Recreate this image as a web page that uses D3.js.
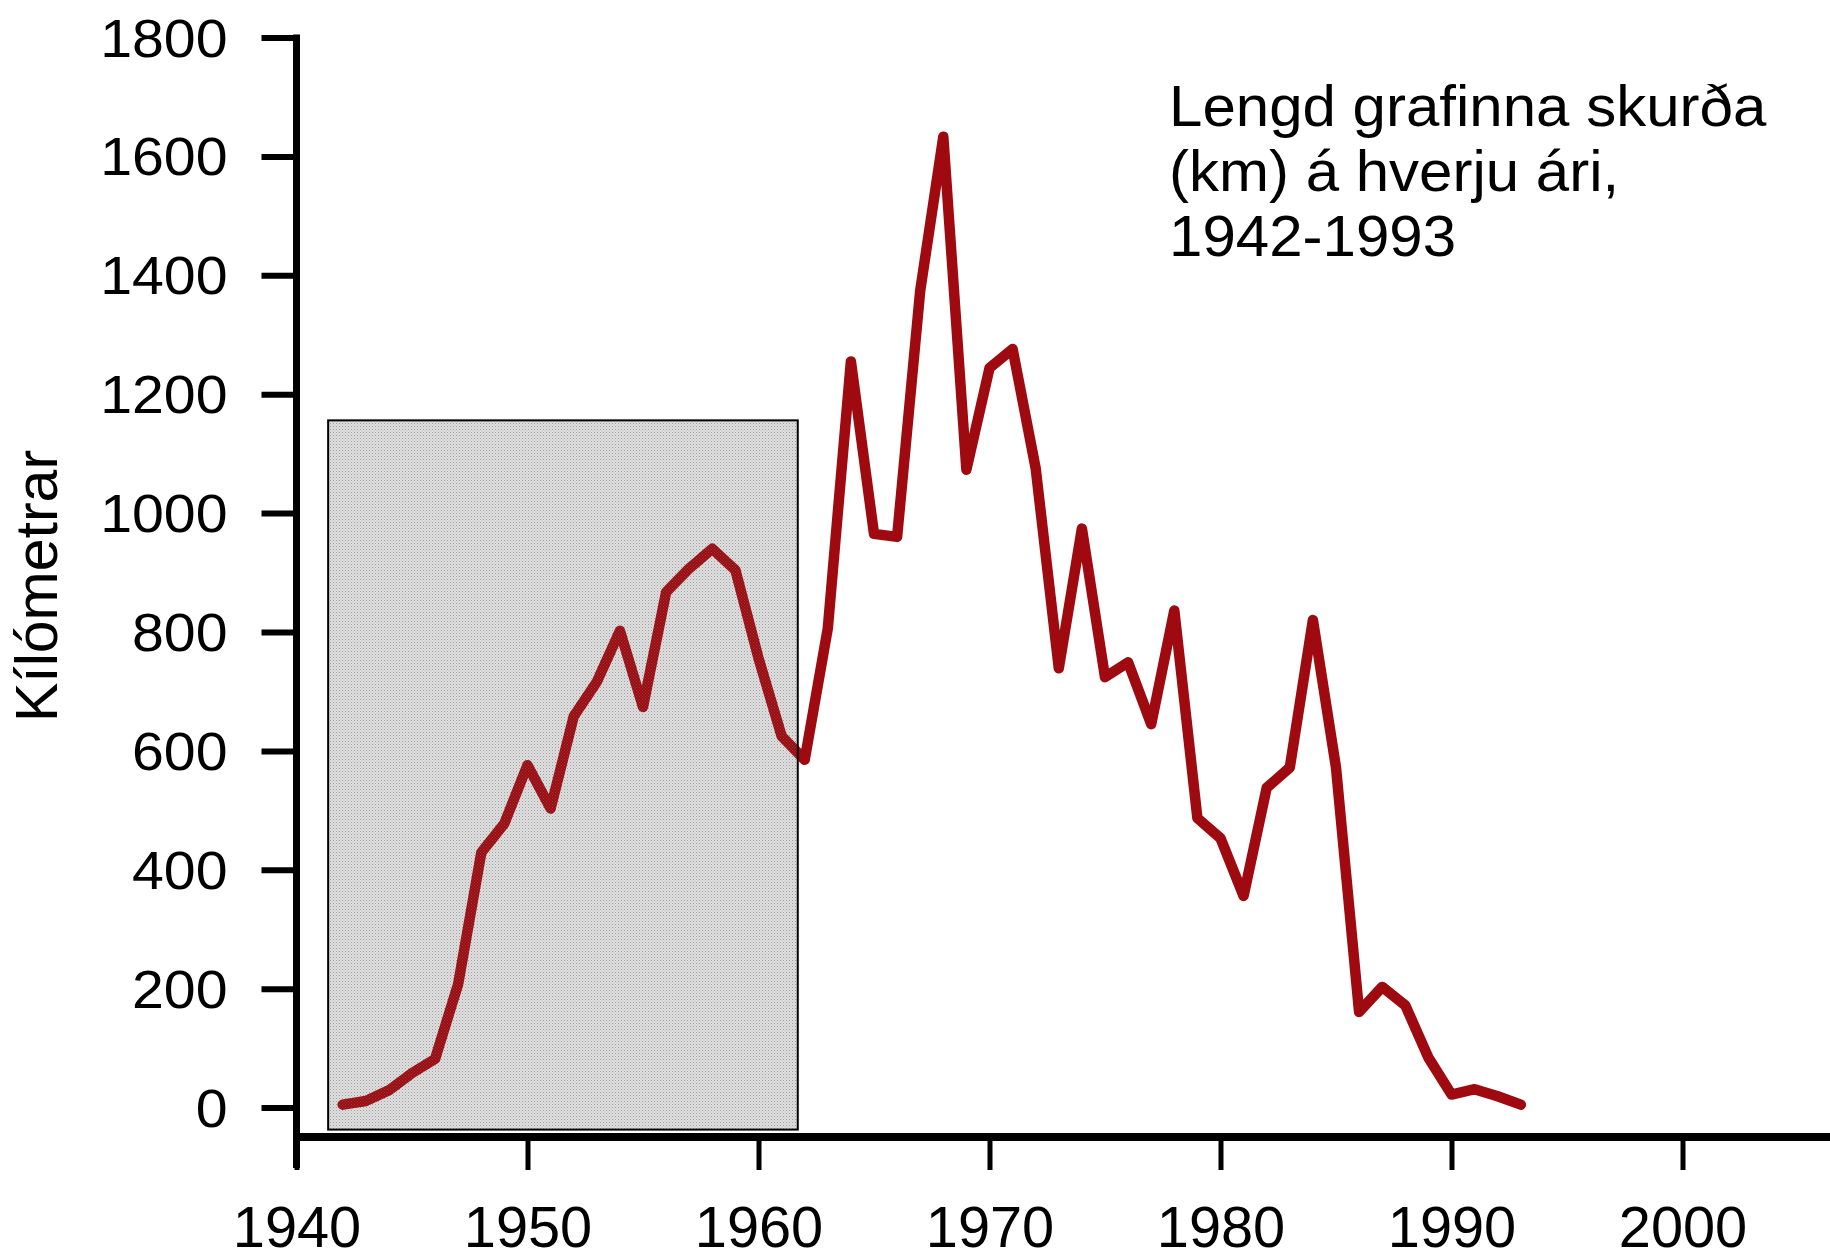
<!DOCTYPE html>
<html>
<head>
<meta charset="utf-8">
<script src="https://cdn.jsdelivr.net/npm/d3@7"></script>
<style>
  html, body { margin: 0; padding: 0; background: #fff; }
  svg { display: block; }
  text { font-family: "Liberation Sans", Arial, Helvetica, sans-serif; fill: #000; }
</style>
</head>
<body>
<svg id="chart" width="1830" height="1259"></svg>
<script>
// ---- data ----
const years = [1942,1943,1944,1945,1946,1947,1948,1949,1950,1951,1952,1953,1954,1955,1956,1957,1958,1959,1960,1961,1962,
               1963,1964,1965,1966,1967,1968,1969,1970,1971,1972,1973,1974,1975,1976,1977,1978,1979,1980,1981,1982,1983,
               1984,1985,1986,1987,1988,1989,1990,1991,1992,1993];
const km = [5,11,29,58,82,208,429,478,576,503,658,716,802,674,867,907,940,904,756,625,585,
            806,1255,965,960,1374,1633,1073,1244,1276,1075,739,974,724,749,645,836,487,453,356,538,572,
            820,572,161,203,172,84,22,31,19,5];
const xTicks = [1940,1950,1960,1970,1980,1990,2000];
const yTicks = [0,200,400,600,800,1000,1200,1400,1600,1800];
const shadedYears = [1941.37, 1961.7];   // grey highlighted period
const shadedKm = [-37, 1156];
const yTitle = "Kílómetrar";
const noteLines = ["Lengd grafinna skurða", "(km) á hverju ári,", "1942-1993"];

// ---- scales ----
const svg = d3.select("#chart");
const x = d3.scaleLinear().domain([1940, 2000]).range([296.5, 1682.5]);
const y = d3.scaleLinear().domain([0, 1800]).range([1107.6, 37.5]);
const xAxisY = 1137;

// pattern for the grey box
const defs = svg.append("defs");
const pat = defs.append("pattern").attr("id", "dots").attr("patternUnits", "userSpaceOnUse")
  .attr("width", 3).attr("height", 3);
pat.append("rect").attr("width", 3).attr("height", 3).attr("fill", "rgba(0,0,0,0)");
pat.append("rect").attr("x", 0).attr("y", 0).attr("width", 1).attr("height", 1).attr("fill", "rgba(110,110,110,0.55)");
pat.append("rect").attr("x", 1.5).attr("y", 1.5).attr("width", 1).attr("height", 1).attr("fill", "rgba(150,150,150,0.4)");

// grey box
const bx0 = x(shadedYears[0]), bx1 = x(shadedYears[1]);
const by0 = y(shadedKm[1]), by1 = y(shadedKm[0]);
svg.append("rect").attr("x", bx0).attr("y", by0).attr("width", bx1 - bx0).attr("height", by1 - by0)
  .attr("fill", "#dedede");

// line
const line = d3.line().x((d, i) => x(years[i])).y(d => y(d));
svg.append("path").datum(km).attr("d", line)
  .attr("fill", "none").attr("stroke", "#9e0a10").attr("stroke-width", 10.5)
  .attr("stroke-linejoin", "round").attr("stroke-linecap", "round");

// pattern overlay + border
svg.append("rect").attr("x", bx0).attr("y", by0).attr("width", bx1 - bx0).attr("height", by1 - by0)
  .attr("fill", "url(#dots)").attr("stroke", "#000").attr("stroke-width", 2);

// y axis
const yAxis = svg.append("g").attr("transform", `translate(${x(1940)},0)`)
  .call(d3.axisLeft(y).tickValues(yTicks).tickSize(35).tickSizeOuter(0).tickPadding(35).tickFormat(d3.format("d")));
yAxis.select(".domain").remove();
yAxis.selectAll(".tick line").attr("stroke", "#000").attr("stroke-width", 6);
yAxis.selectAll(".tick text").attr("font-size", 53).attr("dy", "0.35em")
  .attr("x", 0).attr("transform", "translate(-69,0) scale(1.08,1)")
  .style("font-family", '"Liberation Sans", Arial, sans-serif');

// x axis
const xAxis = svg.append("g").attr("transform", `translate(0,${xAxisY})`)
  .call(d3.axisBottom(x).tickValues(xTicks).tickSize(33).tickSizeOuter(0).tickFormat(d3.format("d")));
xAxis.select(".domain").remove();
xAxis.selectAll(".tick line").attr("stroke", "#000").attr("stroke-width", 5);
xAxis.selectAll(".tick text").attr("font-size", 55).attr("y", 0).attr("dy", 0)
  .attr("transform", "translate(0,110) scale(1.05,1.04)")
  .style("font-family", '"Liberation Sans", Arial, sans-serif');

// axis lines
svg.append("line").attr("x1", x(1940)).attr("x2", x(1940)).attr("y1", y(1800) - 3).attr("y2", xAxisY + 31)
  .attr("stroke", "#000").attr("stroke-width", 7);
svg.append("line").attr("x1", x(1940)).attr("x2", 1830).attr("y1", xAxisY).attr("y2", xAxisY)
  .attr("stroke", "#000").attr("stroke-width", 8);

// y title
svg.append("text").attr("transform", `translate(57,586) rotate(-90)`)
  .attr("text-anchor", "middle").attr("font-size", 59).text(yTitle);

// annotation
svg.append("g").attr("transform", "translate(1169,0) scale(1.035,1)")
  .selectAll("text").data(noteLines).join("text")
  .attr("x", 0).attr("y", (d, i) => 126 + i * 65)
  .attr("font-size", 58).text(d => d);
</script>
</body>
</html>
